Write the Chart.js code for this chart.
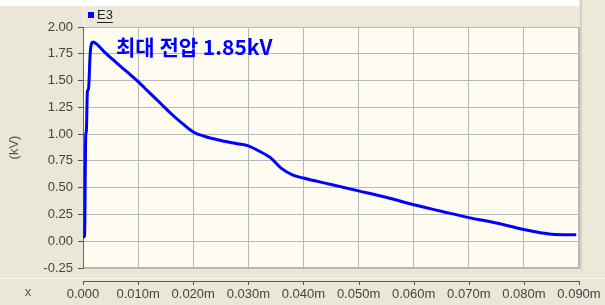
<!DOCTYPE html>
<html>
<head>
<meta charset="utf-8">
<script src="https://cdn.jsdelivr.net/npm/chart.js"></script>
<style>
  html, body { margin: 0; padding: 0; background: #ECE9D8; }
  #voltage-chart { display: block; }
</style>
</head>
<body>
<canvas id="voltage-chart" width="605" height="305"></canvas>
<script>
// time (x axis) and measured voltage in kV
const timeValues = [0, 0.0003, 0.0004, 0.0005, 0.0006, 0.0008, 0.0010, 0.0013, 0.0018, 0.0025,
  0.004, 0.006, 0.008, 0.010, 0.012, 0.014, 0.016, 0.018, 0.020, 0.022,
  0.025, 0.028, 0.030, 0.032, 0.034, 0.036, 0.038, 0.040, 0.045, 0.050,
  0.055, 0.060, 0.065, 0.070, 0.075, 0.080, 0.083, 0.085, 0.0895];
const voltageValues = [0.04, 0.05, 0.58, 1.0, 1.02, 1.40, 1.42, 1.75, 1.86, 1.84,
  1.76, 1.67, 1.58, 1.49, 1.39, 1.29, 1.19, 1.10, 1.02, 0.98,
  0.94, 0.91, 0.89, 0.84, 0.78, 0.68, 0.62, 0.59, 0.53, 0.47,
  0.41, 0.34, 0.28, 0.22, 0.17, 0.11, 0.08, 0.065, 0.06];
const seriesName = "E3";
const yAxisLabel = "(kV)";
const xAxisLabel = "x";
const peakNote = "최대 전압 1.85kV";

const tickFont = { family: "'Liberation Sans', Arial, sans-serif", size: 13 };

// window style background (panels, strips, plot area)
const panelBackground = {
  id: 'panelBackground',
  beforeDraw(chart) {
    const ctx = chart.ctx;
    const a = chart.chartArea;
    ctx.save();
    ctx.fillStyle = '#EAE7D7';
    ctx.fillRect(0, 0, chart.width, chart.height);
    ctx.fillStyle = '#FFFFFF';
    ctx.fillRect(0, 0, a.right, 6);
    ctx.fillStyle = '#ECE9DA';
    ctx.fillRect(a.left + 1, 6, a.right - a.left - 1, a.top - 6);
    ctx.fillStyle = '#F7F5EC';
    ctx.fillRect(a.left, 0, 1, a.top);
    // right strip
    ctx.fillStyle = '#ECE9D8';
    ctx.fillRect(a.right, 0, chart.width - a.right, a.bottom + 2);
    ctx.fillStyle = '#D6D2C2';
    ctx.fillRect(a.right + 1, 0, 2, a.bottom + 2);
    // separator above x axis
    ctx.fillStyle = '#F8F7F0';
    ctx.fillRect(0, 278, chart.width, 1);
    // plot area
    ctx.fillStyle = '#FEFBF0';
    ctx.fillRect(a.left, a.top, a.right - a.left, a.bottom - a.top);
    ctx.strokeStyle = '#B8B8B8';
    ctx.lineWidth = 1;
    ctx.strokeRect(a.left + 0.5, a.top + 0.5, a.right - a.left - 1, a.bottom - a.top - 1);
    ctx.restore();
  },
  afterDraw(chart) {
    const ctx = chart.ctx;
    const a = chart.chartArea;
    const xs = chart.scales.x;
    ctx.save();
    // detached x axis line with ticks
    ctx.strokeStyle = '#555555';
    ctx.lineWidth = 1;
    ctx.beginPath();
    ctx.moveTo(a.left, 281.5);
    ctx.lineTo(a.right, 281.5);
    xs.ticks.forEach(t => {
      const px = Math.round(xs.getPixelForValue(t.value)) + 0.5;
      ctx.moveTo(px, 281);
      ctx.lineTo(px, 285);
    });
    ctx.stroke();
    // axis name
    ctx.fillStyle = '#555555';
    ctx.font = "13px 'Liberation Sans', Arial, sans-serif";
    ctx.textAlign = 'center';
    ctx.textBaseline = 'middle';
    ctx.fillText(xAxisLabel, 28, 292);
    // legend
    ctx.fillStyle = '#0000FF';
    ctx.fillRect(88, 12, 6, 6);
    ctx.fillStyle = '#222222';
    ctx.font = "13px 'Liberation Sans', Arial, sans-serif";
    ctx.textAlign = 'left';
    ctx.fillText(seriesName, 97, 15);
    const w = ctx.measureText(seriesName).width;
    ctx.fillRect(97, 22, w, 1);
    // peak annotation
    ctx.fillStyle = '#0000FF';
    ctx.font = "bold 21px 'Noto Sans CJK KR', sans-serif";
    ctx.textBaseline = 'middle';
    ctx.fillText(peakNote, 116, 47);
    ctx.restore();
  }
};

new Chart(document.getElementById("voltage-chart"), {
  type: 'line',
  data: {
    datasets: [{
      label: seriesName,
      data: timeValues.map((t, i) => ({ x: t, y: voltageValues[i] })),
      borderColor: '#0000FF',
      backgroundColor: '#0000FF',
      borderWidth: 3,
      pointRadius: 0,
      cubicInterpolationMode: 'monotone',
      fill: false
    }]
  },
  options: {
    responsive: false,
    animation: false,
    layout: { padding: { top: 27, right: 26, left: 0, bottom: 0 } },
    plugins: {
      legend: { display: false },
      tooltip: { enabled: false }
    },
    scales: {
      x: {
        type: 'linear',
        min: 0,
        max: 0.09,
        afterFit(scale) {
          scale.height = 37;
          scale.paddingLeft = 0;
          scale.paddingRight = 0;
        },
        ticks: {
          stepSize: 0.01,
          padding: 19,
          color: '#444444',
          font: tickFont,
          maxRotation: 0,
          callback: v => v === 0 ? '0.000' : v.toFixed(3) + 'm'
        },
        grid: { color: '#B8B8B8', drawTicks: false },
        border: { display: false }
      },
      y: {
        min: -0.25,
        max: 2.0,
        afterFit(scale) { scale.width = 83; },
        ticks: {
          stepSize: 0.25,
          padding: 5,
          color: '#444444',
          font: tickFont,
          callback: v => v.toFixed(2)
        },
        grid: { color: '#B8B8B8', tickColor: '#555555', tickLength: 5 },
        border: { color: '#666666' },
        title: {
          display: true,
          text: yAxisLabel,
          color: '#555555',
          font: tickFont,
          padding: { top: 7, bottom: 0 }
        }
      }
    }
  },
  plugins: [panelBackground]
});
</script>
</body>
</html>
